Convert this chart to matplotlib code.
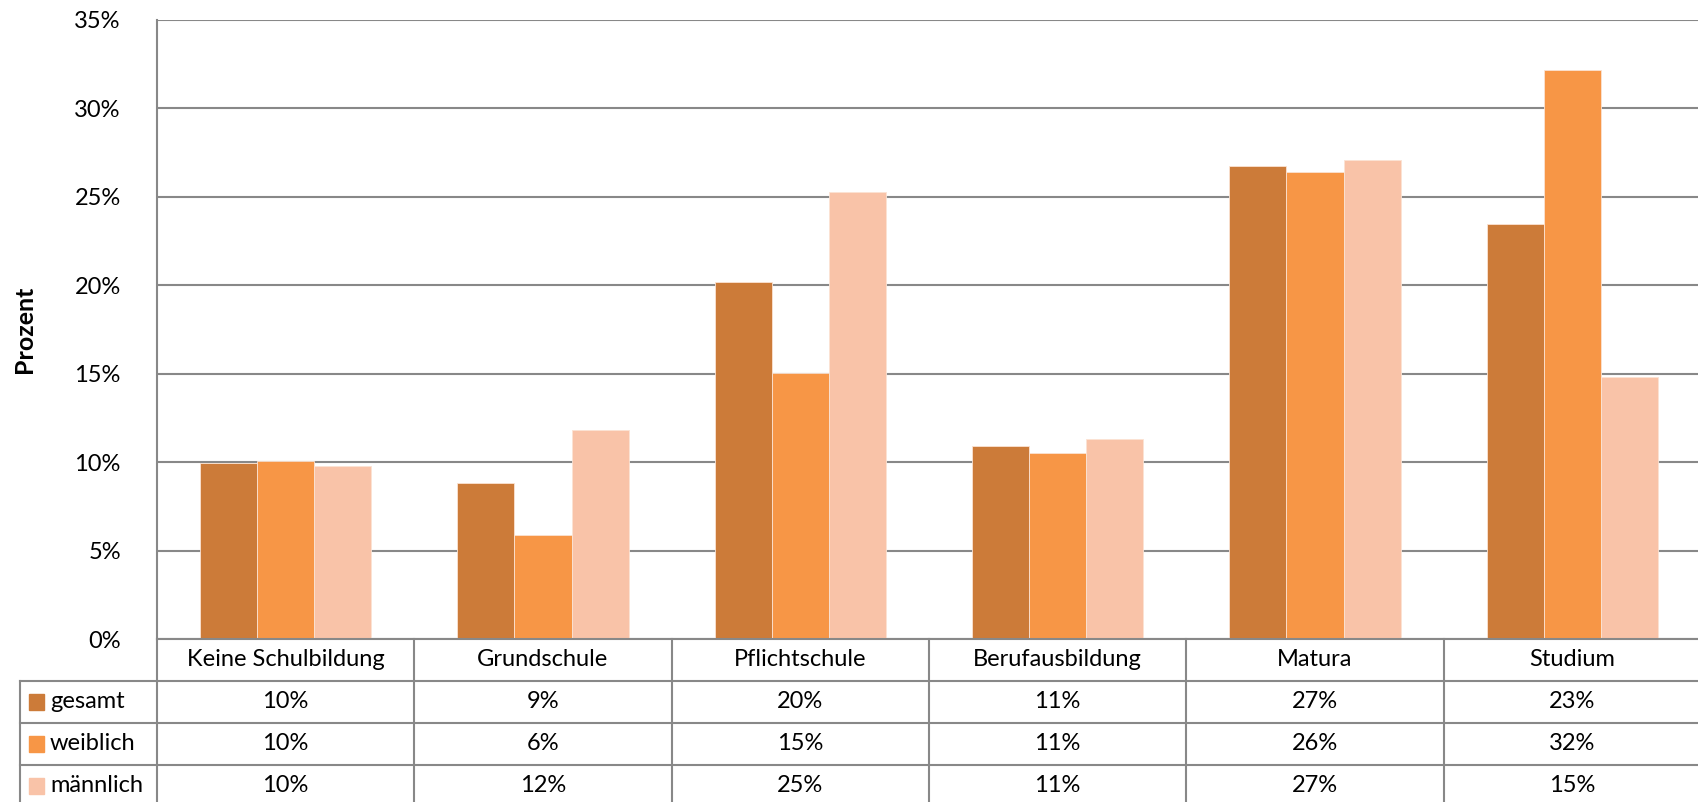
import matplotlib.pyplot as plt
import numpy as np
from matplotlib.lines import Line2D
from matplotlib.patches import Rectangle
from matplotlib.ticker import FuncFormatter

plt.rcParams['font.family'] = ['Lato', 'DejaVu Sans']

# Daten
kategorien = ['Keine Schulbildung', 'Grundschule', 'Pflichtschule',
              'Berufausbildung', 'Matura', 'Studium']
gesamt = [9.96, 8.80, 20.16, 10.93, 26.76, 23.45]
weiblich = [10.08, 5.86, 15.03, 10.51, 26.39, 32.19]
maennlich = [9.77, 11.79, 25.29, 11.30, 27.06, 14.84]
serien = ['gesamt', 'weiblich', 'männlich']
farben = ['#CC7B39', '#F79646', '#F9C3A8']

W, H = 1698, 802
fig = plt.figure(figsize=(W / 100, H / 100), dpi=100)

# Layout in Pixeln (von oben links)
x0, x1 = 157, 1701
y_top, y_null = 20, 639
zeile = 42
grau = '#888888'
fs = 17


def fx(px):
    return px / W


def fy(py):
    return 1 - py / H


ax = fig.add_axes([fx(x0), fy(y_null), fx(x1 - x0), (y_null - y_top) / H])

n = len(kategorien)
x = np.arange(n) + 0.5
breite = 1 / 4.5
for i, (werte, farbe) in enumerate(zip([gesamt, weiblich, maennlich], farben)):
    ax.bar(x + (i - 1) * breite, werte, breite, color=farbe,
           edgecolor='#FBE3D3', linewidth=0.6, zorder=3)

ax.set_xlim(0, n)
ax.set_ylim(0, 35)
ax.set_yticks(np.arange(0, 36, 5))
ax.yaxis.set_major_formatter(FuncFormatter(lambda v, p: f'{v:.0f}%'))
ax.tick_params(axis='y', length=0, pad=26, labelsize=fs)
ax.set_xticks([])
ax.grid(axis='y', color=grau, linewidth=1.5, zorder=0)
for s in ['top', 'right', 'bottom']:
    ax.spines[s].set_visible(False)
ax.spines['left'].set_color(grau)
ax.spines['left'].set_linewidth(1.5)
ax.set_ylabel('Prozent', fontsize=18, fontweight='bold', labelpad=28)

# Datentabelle unter dem Diagramm
cw = (x1 - x0) / n
linien = dict(color=grau, linewidth=1.5, transform=fig.transFigure)
# horizontale Linien
fig.add_artist(Line2D([fx(x0), fx(x1)], [fy(y_null), fy(y_null)], **linien))
for r in range(1, 5):
    yy = y_null + r * zeile
    fig.add_artist(Line2D([fx(20), fx(x1)], [fy(yy), fy(yy)], **linien))
# vertikale Linien
fig.add_artist(Line2D([fx(20), fx(20)], [fy(y_null + zeile), 0], **linien))
for c in range(n + 1):
    xx = x0 + c * cw
    fig.add_artist(Line2D([fx(xx), fx(xx)], [fy(y_null), 0], **linien))

for c, name in enumerate(kategorien):
    fig.text(fx(x0 + (c + 0.5) * cw), fy(y_null + zeile / 2), name,
             ha='center', va='center', fontsize=fs)

for r, (name, werte, farbe) in enumerate(zip(serien, [gesamt, weiblich, maennlich], farben)):
    ym = y_null + (r + 1.5) * zeile
    fig.add_artist(Rectangle((fx(29), fy(ym + 8)), fx(15), 16 / H,
                             color=farbe, transform=fig.transFigure))
    fig.text(fx(50), fy(ym), name, ha='left', va='center', fontsize=fs)
    for c, v in enumerate(werte):
        fig.text(fx(x0 + (c + 0.5) * cw), fy(ym), f'{v:.0f}%',
                 ha='center', va='center', fontsize=fs)

fig.savefig('out.png', dpi=100)
